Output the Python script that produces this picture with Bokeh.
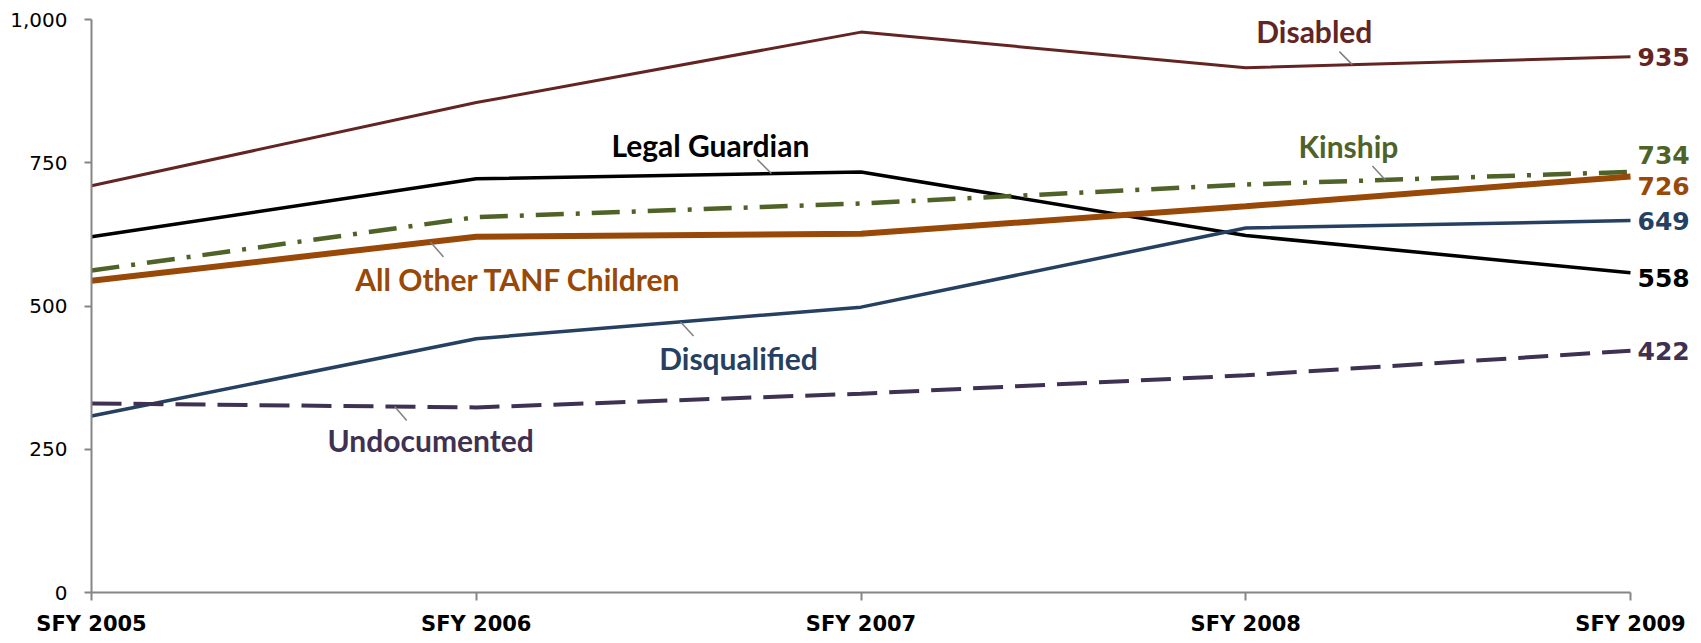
import numpy as np
from bokeh.plotting import figure
from bokeh.models import Range1d, FixedTicker, NumeralTickFormatter
from bokeh.core.properties import value
from bokeh.embed import file_html
from bokeh.resources import INLINE

# ---------------- data ----------------
years = ["SFY 2005", "SFY 2006", "SFY 2007", "SFY 2008", "SFY 2009"]
disabled = [710, 855, 978, 916, 935]
legal_guardian = [621, 722, 734, 623, 558]
kinship = [562, 655, 679, 712, 734]
all_other = [544, 621, 626, 674, 726]
disqualified = [308, 443, 498, 636, 649]
undocumented = [330, 323, 347, 379, 422]
y_ticks = [0, 250, 500, 750, 1000]
names = ["Disabled", "Legal Guardian", "Kinship", "All Other TANF Children",
         "Disqualified", "Undocumented"]
series = [disabled, legal_guardian, kinship, all_other, disqualified, undocumented]

# ---------------- styles ----------------
colors = ["#632523", "#000000", "#4F6228", "#984807", "#254061", "#3F3151"]
widths = [3, 3.5, 4.5, 6, 3.5, 4]
dashes = ["solid", "solid", "28 12 4 12", "solid", "solid", "30 12"]
# end value label vertical nudge (px, down positive)
end_nudge = [0, 5, -17, 9, 0, 0]
# name label: anchor x on series (data), leader vector (px), label baseline offset (px)
anchor_x = [3.277, 1.767, 3.363, 0.881, 1.531, 0.788]
leader_vec = [(-13, -13), (-14, -14), (-13, -14), (13, 15), (13, 14), (12, 14)]
label_off = [(-38, -34), (-61, -29), (-37, -34), (88, 37), (58, 36), (36, 33)]

PX_X = 384.75          # px per category step
FW, FH = 1604, 573
X_END = FW / PX_X
px_y = FH / 1000.0

p = figure(frame_width=FW, frame_height=FH,
           x_range=Range1d(0, X_END), y_range=Range1d(0, 1000),
           output_backend="svg", toolbar_location=None,
           min_border_left=91, min_border_right=6,
           min_border_top=19, min_border_bottom=51)
p.outline_line_color = None
p.xgrid.visible = False
p.ygrid.visible = False
p.background_fill_color = "white"
p.border_fill_color = "white"

xs = list(range(len(years)))
for s, c, w, d in zip(series, colors, widths, dashes):
    p.line(xs, s, line_color=c, line_width=w, line_dash=d)

# axes
for ax in (p.xaxis[0], p.yaxis[0]):
    ax.axis_line_color = "#868686"
    ax.axis_line_width = 2
    ax.major_tick_line_color = "#868686"
    ax.major_tick_line_width = 2
    ax.major_tick_in = 0
    ax.minor_tick_out = 0
    ax.minor_tick_in = 0
    ax.major_label_text_color = "#000000"

p.xaxis.bounds = (0, 4)
p.xaxis.ticker = FixedTicker(ticks=xs)
p.xaxis.major_label_overrides = {i: y for i, y in enumerate(years)}
p.xaxis.major_tick_out = 8
p.xaxis.major_label_standoff = 11
p.xaxis.major_label_text_font = "DejaVu Sans"
p.xaxis.major_label_text_font_style = "bold"
p.xaxis.major_label_text_font_size = "21px"

p.yaxis.ticker = FixedTicker(ticks=y_ticks)
p.yaxis.formatter = NumeralTickFormatter(format="0,0")
p.yaxis.major_tick_out = 7
p.yaxis.major_label_standoff = 17
p.yaxis.major_label_text_font = "DejaVu Sans"
p.yaxis.major_label_text_font_size = "20px"

# leaders and name labels
for i, (name, s) in enumerate(zip(names, series)):
    ax_ = anchor_x[i]
    ay = float(np.interp(ax_, xs, s))
    lx, ly = leader_vec[i]
    p.segment(x0=[ax_], y0=[ay], x1=[ax_ + lx / PX_X], y1=[ay - ly / px_y],
              line_color="#808080", line_width=1.5)
    ox, oy = label_off[i]
    p.text(x=[ax_ + ox / PX_X], y=[ay - oy / px_y], text=[name],
           text_align="center", text_baseline="alphabetic",
           text_font=value("Lato"), text_font_style="bold",
           text_font_size="30px", text_color=colors[i])

# end value labels
for i, s in enumerate(series):
    p.text(x=[xs[-1] + 7 / PX_X], y=[s[-1] - end_nudge[i] / px_y],
           text=[f"{s[-1]:,}"], text_align="left", text_baseline="middle",
           text_font=value("DejaVu Sans"), text_font_style="bold",
           text_font_size="25px", text_color=colors[i])

open("out.html", "w").write(file_html(p, INLINE))
